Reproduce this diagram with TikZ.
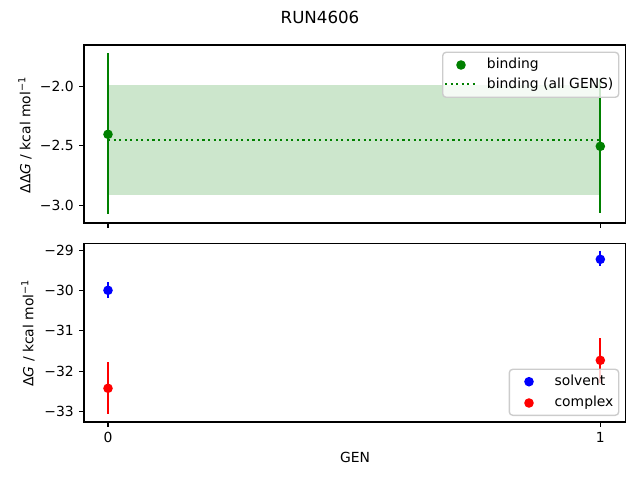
\documentclass[tikz,border=0pt]{standalone}
\usepackage{fontspec}
\setmainfont{DejaVu Sans}
\definecolor{mplgreen}{HTML}{008000}
\definecolor{mplblue}{HTML}{0000FF}
\definecolor{mplred}{HTML}{FF0000}
\definecolor{bandgreen}{HTML}{CCE6CC}
\definecolor{legendedge}{HTML}{CCCCCC}
\tikzset{
  ticklab/.style={inner sep=0pt, font=\fontsize{10}{12}\selectfont},
  tickmark/.style={line width=0.8pt},
  errbar/.style={line width=1.6pt},
  dot/.style={radius=4.8},
  legendbox/.style={draw=legendedge, line width=1pt, fill=white, fill opacity=0.8, rounded corners=2.5},
}
\begin{document}
\begin{tikzpicture}[x=0.72pt,y=-0.72pt]
  \useasboundingbox (0,0) rectangle (640,480);
  % title
  \node[ticklab, font=\fontsize{12}{14}\selectfont] (title) at (320,17) {RUN4606};

  % upper panel: binding
  \fill[bandgreen] (108,85) rectangle (600.3,195.3);
  \draw[mplgreen, line width=1.5pt, dash pattern=on 1.5pt off 2.5pt] (108,139.7) -- (600.3,139.7);
  \begin{scope}[mplgreen]
    \draw[errbar] (108,53.3) -- (108,214.3);
    \draw[errbar] (600.3,79.3) -- (600.3,213.3);
    \fill (108,134.3) circle[dot];
    \fill (600.3,146.3) circle[dot];
  \end{scope}
  \draw[legendbox] (442.7,52.3) rectangle (618.7,97.3);
  \fill[mplgreen] (461,65) circle[dot];
  \draw[mplgreen, line width=1.5pt, dash pattern=on 1.5pt off 2.5pt] (445,84.3) -- (475,84.3);
  \node[ticklab, anchor=west] (bind) at (486.7,65) {binding};
  \node[ticklab, anchor=west] (bindall) at (486.7,84.7) {binding (all GENS)};
  \draw[line width=0.8pt] (84,45) rectangle (625.7,223);
  \draw[tickmark]
    (84,86.3) -- (79.1,86.3) node[ticklab, anchor=east, xshift=-3.5pt] (t20) {−2.0}
    (84,145.7) -- (79.1,145.7) node[ticklab, anchor=east, xshift=-3.5pt] (t25) {−2.5}
    (84,205.3) -- (79.1,205.3) node[ticklab, anchor=east, xshift=-3.5pt] (t30) {−3.0}
    (108,223) -- (108,227.9)
    (600.3,223) -- (600.3,227.9);
  \node[ticklab, rotate=90] (ylabtop) at (25,135) {ΔΔ\textit{G} / kcal mol\textsuperscript{−1}};

  % lower panel: solvent and complex
  \begin{scope}[mplblue]
    \draw[errbar] (108,282.3) -- (108,298.3);
    \draw[errbar] (600.3,250.7) -- (600.3,265.7);
    \fill (108,290.3) circle[dot];
    \fill (600.3,259.3) circle[dot];
  \end{scope}
  \begin{scope}[mplred]
    \draw[errbar] (108,362) -- (108,414);
    \draw[errbar] (600.3,338) -- (600.3,382.7);
    \fill (108,388.3) circle[dot];
    \fill (600.3,360.3) circle[dot];
  \end{scope}
  \draw[legendbox] (509.3,369.3) rectangle (618.7,415.3);
  \fill[mplblue] (529,381.7) circle[dot];
  \fill[mplred] (529,403) circle[dot];
  \node[ticklab, anchor=west] (solv) at (554.3,380.3) {solvent};
  \node[ticklab, anchor=west] (cplx) at (554.3,402.2) {complex};
  \draw[line width=0.8pt] (84,243.3) rectangle (625.7,422);
  \draw[tickmark]
    (84,250.7) -- (79.1,250.7) node[ticklab, anchor=east, xshift=-3.5pt] (t29) {−29}
    (84,290.3) -- (79.1,290.3) node[ticklab, anchor=east, xshift=-3.5pt] (t30b) {−30}
    (84,330.7) -- (79.1,330.7) node[ticklab, anchor=east, xshift=-3.5pt] (t31) {−31}
    (84,371.3) -- (79.1,371.3) node[ticklab, anchor=east, xshift=-3.5pt] (t32) {−32}
    (84,411.3) -- (79.1,411.3) node[ticklab, anchor=east, xshift=-3.5pt] (t33) {−33}
    (108,422) -- (108,426.9) node[ticklab, anchor=north, yshift=-3.5pt] (g0) {0}
    (600.3,422) -- (600.3,426.9) node[ticklab, anchor=north, yshift=-3.5pt] (g1) {1};
  \node[ticklab, rotate=90] (ylabbot) at (28,333) {Δ\textit{G} / kcal mol\textsuperscript{−1}};
  \node[ticklab] (xlab) at (355,457) {GEN};
\end{tikzpicture}
\end{document}
